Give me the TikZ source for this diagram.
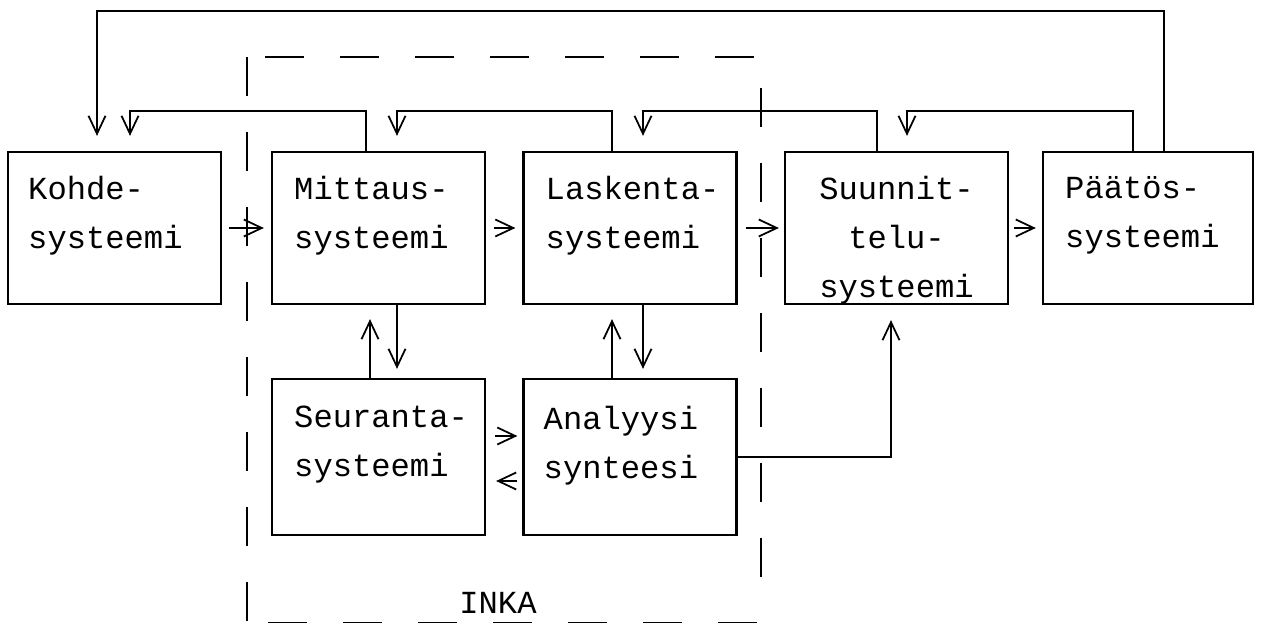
\documentclass[tikz,border=0pt]{standalone}
\usepackage{fontspec}
\setmainfont{Liberation Mono}
\usetikzlibrary{arrows.meta,positioning,calc}

\begin{document}
\begin{tikzpicture}[font=\fontsize{18.3pt}{27.9pt}\selectfont,>={Straight Barb[length=3.6mm,width=3.4mm]},sysbox/.style={draw,line width=1.3pt,minimum width=4.26cm,minimum height=3.04cm,inner sep=0pt},systext/.style={align=left,inner sep=0pt,execute at begin node=\strut},flow/.style={->,line width=1pt},inka/.style={line width=1.1pt,dash pattern=on 0.78cm off 0.72cm}]
\fill[white] (0,0) rectangle (25.28,12.5);
\useasboundingbox (0,0) rectangle (25.28,12.5);
% systeemit
\node[sysbox] (kohde) at (2.29,7.94){};
\node[sysbox] (mittaus) at (7.57,7.94){};
\node[sysbox] (laskenta) at (12.60,7.94){};
\node[sysbox,minimum width=4.46cm] (suunnit) at (17.93,7.94){};
\node[sysbox,minimum width=4.2cm] (paatos) at (22.96,7.94){};
\node[sysbox,minimum height=3.12cm] (seuranta) at (7.57,3.36){};
\node[sysbox,minimum height=3.12cm] (analyysi) at (12.60,3.36){};
\node[systext,anchor=north west] (kohdeT) at ([xshift=0.42cm,yshift=-0.5cm]kohde.north west){Kohde-\\systeemi};
\node[systext,anchor=north west] (mittausT) at ([xshift=0.46cm,yshift=-0.5cm]mittaus.north west){Mittaus-\\systeemi};
\node[systext,anchor=north west] (laskentaT) at ([xshift=0.46cm,yshift=-0.5cm]laskenta.north west){Laskenta-\\systeemi};
\node[systext,align=center,anchor=north] (suunnitT) at ([yshift=-0.5cm]suunnit.north){Suunnit-\\telu-\\systeemi};
\node[systext,anchor=north west] (paatosT) at ([xshift=0.46cm,yshift=-0.5cm]paatos.north west){Päätös-\\systeemi};
\node[systext,anchor=north west] (seurantaT) at ([xshift=0.46cm,yshift=-0.56cm]seuranta.north west){Seuranta-\\systeemi};
\node[systext,anchor=north west] (analyysiT) at ([xshift=0.42cm,yshift=-0.56cm]analyysi.north west){Analyysi\\synteesi};
% INKA
\draw[inka] (4.94,11.36) -- (4.94,0);
\draw[inka] (5.30,11.36) -- (15.24,11.36);
\draw[inka] (15.22,10.74) -- (15.22,0.5);
\draw[inka] (5.36,0.05) -- (15.2,0.05);
\node (inka) at (9.96,0.44){INKA};
% eteenpain
\draw[flow,shorten <=0.14cm,shorten >=0.14cm] (kohde) -- (mittaus);
\draw[flow,shorten <=0.16cm,shorten >=0.14cm] (mittaus) -- (laskenta);
\draw[flow,shorten <=0.16cm,shorten >=0.1cm] (laskenta) -- (suunnit);
\draw[flow,shorten <=0.1cm,shorten >=0.12cm] (suunnit) -- (paatos);
% takaisinkytkennat
\draw[flow] ([xshift=0.32cm]paatos.north) -- ++(0,2.8) -| ([xshift=-0.35cm,yshift=0.3cm]kohde.north);
\draw[flow] ([xshift=-0.25cm]mittaus.north) -- ++(0,0.8) -| ([xshift=0.31cm,yshift=0.3cm]kohde.north);
\draw[flow] ([xshift=-0.36cm]laskenta.north) -- ++(0,0.8) -| ([xshift=0.37cm,yshift=0.3cm]mittaus.north);
\draw[flow] ([xshift=-0.39cm]suunnit.north) -- ++(0,0.8) -| ([xshift=0.26cm,yshift=0.3cm]laskenta.north);
\draw[flow] ([xshift=-0.30cm]paatos.north) -- ++(0,0.8) -| ([xshift=0.21cm,yshift=0.3cm]suunnit.north);
% pystysuunta
\draw[flow] ([xshift=-0.17cm]seuranta.north) -- ([xshift=-0.17cm,yshift=-0.28cm]mittaus.south);
\draw[flow] ([xshift=0.37cm]mittaus.south) -- ([xshift=0.37cm,yshift=0.18cm]seuranta.north);
\draw[flow] ([xshift=-0.36cm]analyysi.north) -- ([xshift=-0.36cm,yshift=-0.28cm]laskenta.south);
\draw[flow] ([xshift=0.26cm]laskenta.south) -- ([xshift=0.26cm,yshift=0.18cm]analyysi.north);
\draw[flow,shorten <=0.18cm,shorten >=0.1cm] ([yshift=0.42cm]seuranta.east) -- ([yshift=0.42cm]analyysi.west);
\draw[flow,shorten <=0.1cm,shorten >=0.2cm] ([yshift=-0.48cm]analyysi.west) -- ([yshift=-0.48cm]seuranta.east);
\draw[flow] (analyysi.east) -| ([xshift=-0.11cm,yshift=-0.3cm]suunnit.south);
\end{tikzpicture}
\end{document}
